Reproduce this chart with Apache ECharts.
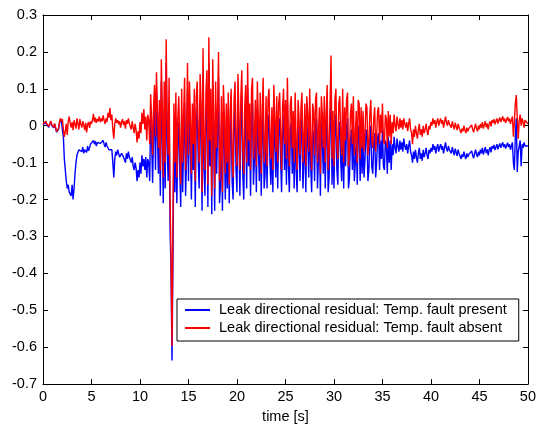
<!DOCTYPE html>
<html><head><meta charset="utf-8">
<script src="https://cdn.jsdelivr.net/npm/echarts@6/dist/echarts.min.js"></script>
<style>html,body{margin:0;padding:0;background:#fff}#c{width:539px;height:429px}</style>
</head><body><div id="c"></div>
<script>
// sample step of the recorded residuals (s)
const dt = 0.1;
const seriesNames = ['Leak directional residual: Temp. fault present', 'Leak directional residual: Temp. fault absent'];
const xTicks = [0,5,10,15,20,25,30,35,40,45,50];
const yTicks = [-0.7,-0.6,-0.5,-0.4,-0.3,-0.2,-0.1,0,0.1,0.2,0.3];

// Temp. fault absent (red)
const absent = [
.005,.01,.002,.012,.004,.008,-.002,.006,.013,.003,
.008,-.004,.006,.002,-.015,-.02,-.008,.01,.02,.012,
.018,-.01,-.03,-.015,.005,-.025,.012,.025,.008,-.005,
.01,-.012,.015,.004,-.008,.02,.006,-.01,.018,.005,
-.005,.012,.002,-.012,.008,-.018,.004,.01,-.006,.012,
.005,.015,.032,.01,.022,.008,.018,.012,.025,.01,
.02,.012,.028,.015,.005,.02,.01,.035,.022,.048,
.015,.03,-.01,-.035,.005,.02,.008,.015,.004,.012,
-.005,.01,.018,.002,.012,-.008,.015,.005,.02,.006,
.002,-.01,.012,-.005,-.02,.005,-.012,-.045,-.015,-.035,
.01,-.02,.035,.005,.045,-.01,.025,-.04,.03,.015,
-.05,.085,.02,-.08,.05,.11,-.03,.145,.04,-.06,
.07,-.12,.18,.05,-.14,.12,-.1,.234,.02,-.08,
.13,-.2,-.35,-.597,-.25,.06,-.1,.09,-.14,.02,
.08,-.05,-.16,.1,-.1,.03,.13,-.12,-.02,.17,
-.08,.12,.02,-.13,.06,-.05,.1,-.15,.08,.12,
-.02,-.1,.14,.06,-.18,.21,-.05,-.12,.09,.15,
-.16,.24,-.04,.1,-.19,.18,.02,-.17,.12,-.06,
.05,.2,-.15,-.09,.08,-.18,.11,.03,-.13,.06,
-.1,.09,-.16,.04,.1,-.08,-.14,.07,.12,-.05,
-.11,.14,.03,-.12,.08,.15,-.06,-.13,.05,.11,
-.1,.17,-.04,.06,-.12,.1,.13,-.09,-.02,.07,
-.11,.12,.02,-.08,.09,-.13,.04,.13,-.1,-.06,
.08,-.11,.07,.1,-.03,-.09,.05,-.12,.11,.02,
-.07,.08,-.1,.06,.09,-.02,-.12,.05,.1,-.05,
.07,-.09,.13,-.04,-.11,.06,.08,-.06,.04,-.1,
.09,-.05,-.12,.07,.02,-.08,.05,.09,-.1,-.03,
.06,-.11,.08,.03,-.07,.1,-.04,-.12,.06,.04,
-.08,.07,.09,-.1,-.02,.05,-.13,.08,.03,-.06,
.08,-.1,.04,.11,-.12,-.07,.06,.19,-.09,.04,
-.11,.07,.1,-.05,-.09,.06,.08,-.03,-.08,.1,
-.1,.05,-.04,.07,.09,-.11,-.07,.03,.06,-.05,
.08,-.08,-.03,.04,-.1,.07,.06,-.09,.05,-.06,
.04,-.07,-.02,.06,.05,-.08,-.05,.03,.07,-.04,
-.06,.02,.05,-.07,-.03,.04,.05,-.05,.03,-.02,
.06,-.04,-.05,.03,.02,-.06,.04,-.03,.03,-.05,
.01,-.02,.03,.0,-.015,.025,.005,-.01,.02,-.005,
.015,-.01,.02,.005,-.005,.01,-.015,.005,.02,-.01,
-.02,-.05,-.01,-.03,.0,-.02,-.035,-.01,.005,-.025,
-.01,-.03,.0,-.02,-.01,.005,-.015,-.025,.0,-.01,
.01,.0,.02,.005,.015,-.005,.01,.02,.0,.012,
.02,.005,.015,-.005,.01,.025,.008,.0,.015,.005,
.01,-.005,.012,.0,-.01,.008,.003,-.012,.005,-.005,
-.01,-.02,-.008,-.015,.0,-.012,-.02,-.005,-.015,-.008,
-.005,-.012,.002,-.01,-.018,-.005,.005,-.008,-.015,.0,
-.01,.005,-.005,.01,-.008,.002,.012,-.004,.006,-.01,
.005,.012,-.002,.015,.008,.018,.004,.012,.02,.006,
.015,.022,.01,.018,.025,.012,.02,.008,.016,.024,
.012,.02,.005,.015,.025,-.03,.01,.06,.083,.02,
-.035,.015,.03,.0,.02,.01,-.005,.015,.02,.01,
.005
];

// Temp. fault present (blue)
const present = [
.003,.008,.0,.01,.002,.006,-.004,.004,.011,.001,
.006,-.006,.004,.0,-.017,-.022,-.01,.008,.018,.01,
.015,-.03,-.09,-.12,-.15,-.17,-.16,-.18,-.175,-.19,
-.16,-.2,-.17,-.13,-.1,-.08,-.075,-.065,-.07,-.06,
-.07,-.058,-.075,-.065,-.06,-.072,-.055,-.068,-.06,-.05,
-.055,-.045,-.04,-.05,-.042,-.055,-.045,-.05,-.04,-.048,
-.045,-.052,-.04,-.05,-.058,-.045,-.055,-.05,-.065,-.06,
-.07,-.065,-.1,-.14,-.09,-.07,-.08,-.065,-.075,-.085,
-.09,-.075,-.07,-.085,-.08,-.1,-.075,-.09,-.07,-.085,
-.09,-.1,-.085,-.11,-.12,-.1,-.115,-.15,-.12,-.14,
-.1,-.13,-.08,-.11,-.09,-.12,-.085,-.14,-.09,-.1,
-.15,.02,-.04,-.155,-.02,.05,-.12,.09,-.03,-.13,
.0,-.19,.12,-.02,-.21,.05,-.17,.17,-.05,-.15,
.06,-.28,-.39,-.636,-.36,-.01,-.18,.02,-.21,-.05,
.01,-.12,-.22,.03,-.18,-.04,.06,-.19,-.09,.1,
-.15,.05,-.05,-.2,-.01,-.12,.03,-.22,.01,.05,
-.09,-.17,.07,-.01,-.23,.14,-.12,-.19,.02,.08,
-.22,.17,-.11,.03,-.24,.11,-.05,-.23,.05,-.13,
-.02,.13,-.21,-.16,.01,-.23,.04,-.04,-.2,-.01,
-.17,.02,-.21,-.03,.03,-.15,-.2,.0,.05,-.12,
-.18,.07,-.04,-.19,.01,.08,-.13,-.2,-.02,.04,
-.17,.1,-.11,-.01,-.19,.03,.06,-.16,-.09,.0,
-.18,.05,-.05,-.15,.02,-.19,-.03,.06,-.17,-.13,
.01,-.17,.0,.03,-.1,-.16,-.02,-.18,.04,-.05,
-.14,.01,-.17,-.01,.02,-.09,-.18,-.02,.03,-.12,
.0,-.16,.06,-.11,-.18,-.01,.01,-.13,-.03,-.17,
.02,-.12,-.18,.0,-.05,-.15,-.02,.02,-.17,-.1,
-.01,-.18,.01,-.04,-.14,.03,-.11,-.18,-.01,-.03,
-.15,.0,.02,-.17,-.09,-.02,-.19,.01,-.04,-.13,
.01,-.17,-.03,.04,-.18,-.14,-.01,.12,-.16,-.03,
-.17,.0,.03,-.12,-.16,-.01,.01,-.1,-.15,.03,
-.17,-.02,-.11,.0,.02,-.17,-.14,-.04,-.01,-.12,
.01,-.15,-.1,-.03,-.16,.0,-.01,-.15,-.02,-.13,
-.03,-.14,-.09,-.01,-.02,-.15,-.12,-.04,.0,-.11,
-.13,-.05,-.02,-.14,-.1,-.03,-.02,-.12,-.04,-.09,
-.01,-.11,-.12,-.04,-.05,-.13,-.03,-.1,-.04,-.12,
-.05,-.08,-.03,-.06,-.075,-.035,-.055,-.07,-.04,-.065,
-.045,-.07,-.035,-.055,-.065,-.05,-.075,-.055,-.04,-.07,
-.08,-.1,-.07,-.09,-.065,-.085,-.1,-.075,-.06,-.09,
-.075,-.095,-.065,-.085,-.075,-.06,-.08,-.09,-.065,-.075,
-.06,-.07,-.05,-.065,-.055,-.075,-.06,-.05,-.07,-.058,
-.05,-.065,-.055,-.075,-.06,-.045,-.062,-.07,-.055,-.065,
-.06,-.075,-.058,-.07,-.08,-.062,-.067,-.082,-.065,-.075,
-.08,-.09,-.078,-.085,-.07,-.082,-.09,-.075,-.085,-.078,
-.075,-.082,-.068,-.08,-.088,-.075,-.065,-.078,-.085,-.07,
-.08,-.065,-.075,-.06,-.078,-.068,-.058,-.074,-.064,-.08,
-.065,-.058,-.072,-.055,-.062,-.052,-.066,-.058,-.05,-.064,
-.055,-.048,-.06,-.052,-.045,-.058,-.05,-.062,-.054,-.046,
-.058,-.05,-.065,-.055,-.045,-.1,-.12,-.03,.02,-.125,
-.07,-.055,-.04,-.11,-.05,-.06,-.045,-.055,-.05,-.06,
-.055
];

const pair = arr => arr.map((v, i) => [+(i * dt).toFixed(1), v]);
const font = 'Liberation Sans, Arial, sans-serif';
const chart = echarts.init(document.getElementById('c'), null, {renderer: 'canvas'});
const axisCommon = {
  axisLine: {show: true, onZero: false, lineStyle: {color: '#000', width: 1}},
  axisTick: {show: true, inside: true, length: 5, lineStyle: {color: '#000'}},
  splitLine: {show: false}
};
chart.setOption({
  animation: false,
  backgroundColor: '#fff',
  grid: {left: 43, right: 11, top: 15, bottom: 37, show: false},
  xAxis: [
    Object.assign({type: 'value', min: xTicks[0], max: xTicks[xTicks.length-1], interval: 5, position: 'bottom',
      name: 'time [s]', nameLocation: 'middle', nameGap: 21,
      nameTextStyle: {fontFamily: font, fontSize: 14.5, color: '#000'},
      axisLabel: {fontFamily: font, fontSize: 14.5, color: '#000', margin: 5}}, axisCommon),
    Object.assign({type: 'value', min: xTicks[0], max: xTicks[xTicks.length-1], interval: 5, position: 'top',
      axisLabel: {show: false}}, axisCommon)
  ],
  yAxis: [
    Object.assign({type: 'value', min: yTicks[0], max: yTicks[yTicks.length-1], interval: 0.1, position: 'left',
      axisLabel: {fontFamily: font, fontSize: 14.5, color: '#000', margin: 6,
        formatter: v => String(Math.round(v * 10) / 10)}}, axisCommon),
    Object.assign({type: 'value', min: yTicks[0], max: yTicks[yTicks.length-1], interval: 0.1, position: 'right',
      axisLabel: {show: false}}, axisCommon)
  ],
  legend: {
    orient: 'vertical', left: 177, top: 299,
    backgroundColor: '#fff', borderColor: '#000', borderWidth: 1, borderRadius: 0,
    padding: [3, 12, 5, 8], itemGap: 2, itemWidth: 25, itemHeight: 2, icon: 'rect',
    textStyle: {fontFamily: font, fontSize: 14.5, color: '#000', lineHeight: 16, padding: [0, 0, 0, 4]},
    data: seriesNames
  },
  series: [
    {name: seriesNames[0], type: 'line', data: pair(present), symbol: 'none', color: '#0000ff',
      lineStyle: {width: 1.4, color: '#0000ff'}, z: 2},
    {name: seriesNames[1], type: 'line', data: pair(absent), symbol: 'none', color: '#ff0000',
      lineStyle: {width: 1.4, color: '#ff0000'}, z: 3}
  ]
});
</script></body></html>
